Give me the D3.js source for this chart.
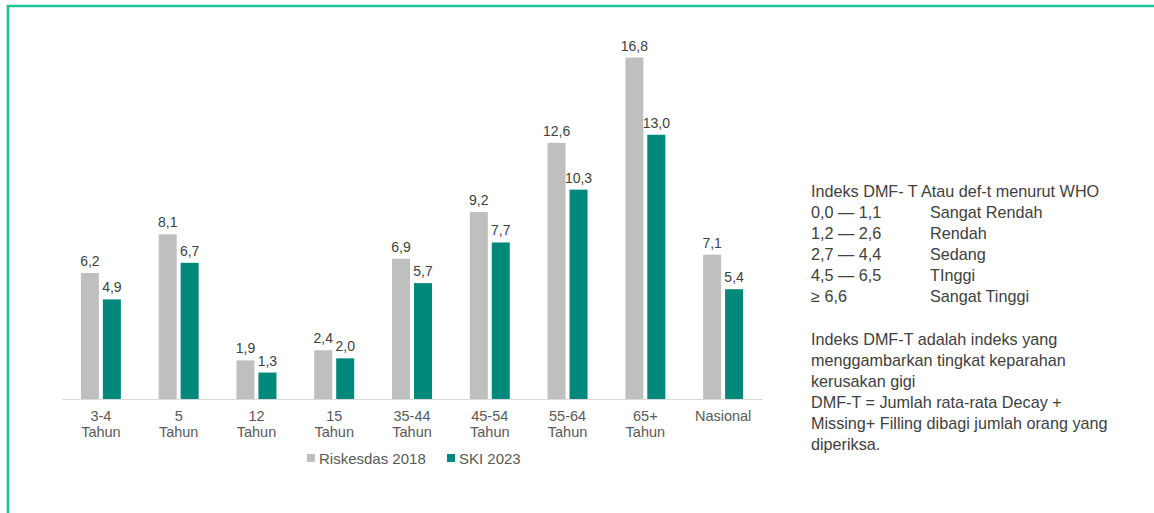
<!DOCTYPE html>
<html>
<head>
<meta charset="utf-8">
<script src="https://cdn.jsdelivr.net/npm/d3@7"></script>
<style>
  html, body { margin: 0; padding: 0; background: #fff; }
  svg { display: block; font-family: "Liberation Sans", Arial, sans-serif; }
</style>
</head>
<body>
<svg id="chart" width="1154" height="513"></svg>
<script>
// Indeks DMF-T per kelompok umur
const categories = [["3-4", "Tahun"], ["5", "Tahun"], ["12", "Tahun"], ["15", "Tahun"],
                    ["35-44", "Tahun"], ["45-54", "Tahun"], ["55-64", "Tahun"], ["65+", "Tahun"], ["Nasional"]];
const seriesNames = ["Riskesdas 2018", "SKI 2023"];
const riskesdas2018 = [6.2, 8.1, 1.9, 2.4, 6.9, 9.2, 12.6, 16.8, 7.1];
const ski2023 = [4.9, 6.7, 1.3, 2.0, 5.7, 7.7, 10.3, 13.0, 5.4];
const seriesColors = ["#bfbfbf", "#00897b"];

const whoTitle = "Indeks DMF- T Atau def-t menurut WHO";
const whoRanges = ["0,0 \u2014 1,1", "1,2 \u2014 2,6", "2,7 \u2014 4,4", "4,5 \u2014 6,5", "\u2265 6,6"];
const whoLevels = ["Sangat Rendah", "Rendah", "Sedang", "TInggi", "Sangat Tinggi"];
const noteLines = ["Indeks DMF-T adalah indeks yang", "menggambarkan tingkat keparahan",
                   "kerusakan gigi", "DMF-T = Jumlah rata-rata Decay +",
                   "Missing+ Filling dibagi jumlah orang yang", "diperiksa."];

const svg = d3.select("#chart");

// frame
svg.append("path")
  .attr("d", "M8,520 L8,6 L1160,6")
  .attr("fill", "none")
  .attr("stroke", "#1dc497")
  .attr("stroke-width", 2.6);

const keys = categories.map(c => c.join(" "));
const x0 = d3.scaleBand().domain(keys).range([62, 762]).paddingInner(0.486).paddingOuter(0.243);
const x1 = d3.scaleBand().domain(seriesNames).range([0, x0.bandwidth()]).paddingInner(0.18);
const y = d3.scaleLinear().domain([0, 16.8]).range([399, 57.5]);

const rows = keys.map((k, i) => ({ key: k, values: [riskesdas2018[i], ski2023[i]] }));
const fmt = v => d3.format(".1f")(v).replace(".", ",");

const groups = svg.append("g").selectAll("g").data(rows).join("g")
  .attr("transform", d => `translate(${x0(d.key)},0)`);

groups.selectAll("rect").data(d => d.values.map((v, j) => ({ s: seriesNames[j], v, j })))
  .join("rect")
  .attr("x", d => x1(d.s))
  .attr("width", x1.bandwidth())
  .attr("y", d => y(d.v))
  .attr("height", d => y(0) - y(d.v))
  .attr("fill", d => seriesColors[d.j]);

groups.selectAll("text.val").data(d => d.values.map((v, j) => ({ s: seriesNames[j], v })))
  .join("text")
  .attr("class", "val")
  .attr("x", d => x1(d.s) + x1.bandwidth() / 2)
  .attr("y", d => y(d.v) - 7)
  .attr("text-anchor", "middle")
  .attr("font-size", "14px")
  .attr("fill", "#404040")
  .text(d => fmt(d.v));

// category axis
const xAxis = svg.append("g").attr("transform", `translate(0,${y(0)})`)
  .call(d3.axisBottom(x0).tickSize(0).tickFormat(""));
xAxis.select(".domain").attr("stroke", "#d9d9d9").attr("stroke-width", 1.2);
xAxis.selectAll(".tick text").remove();
xAxis.selectAll(".tick").each(function(d, i) {
  const t = d3.select(this).append("text")
    .attr("text-anchor", "middle")
    .attr("font-size", "14.5px")
    .attr("fill", "#595959");
  categories[i].forEach((line, k) => {
    t.append("tspan").attr("x", 0).attr("y", 22 + k * 15.5).text(line);
  });
});

// legend
const legend = svg.append("g").attr("transform", "translate(307,458)");
const legendX = [0, 140];
seriesNames.forEach((name, j) => {
  const g = legend.append("g").attr("transform", `translate(${legendX[j]},0)`);
  g.append("rect").attr("x", 0).attr("y", -4).attr("width", 8).attr("height", 8).attr("fill", seriesColors[j]);
  g.append("text").attr("x", 12).attr("y", 5.5).attr("font-size", "15px").attr("fill", "#595959").text(name);
});

// WHO classification text
const info = svg.append("g").attr("font-size", "16.2px").attr("fill", "#404040");
info.append("text").attr("x", 811).attr("y", 197).text(whoTitle);
whoRanges.forEach((r, i) => {
  info.append("text").attr("x", 811).attr("y", 218 + i * 21).text(r);
  info.append("text").attr("x", 930).attr("y", 218 + i * 21).text(whoLevels[i]);
});
noteLines.forEach((l, i) => {
  info.append("text").attr("x", 811).attr("y", 345 + i * 21).text(l);
});
</script>
</body>
</html>
